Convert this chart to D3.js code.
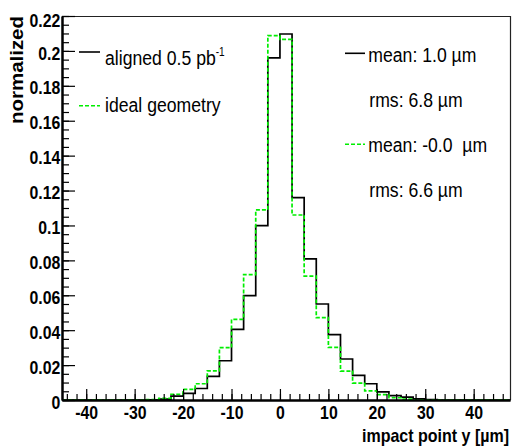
<!DOCTYPE html>
<head>
    <script src="https://d3js.org/d3.v7.min.js" charset="utf-8"></script>
    <style>
    body { margin: 0; background: #fff; }
    svg { display: block; font-family: "Liberation Sans", Arial, sans-serif; }
    .tick line { stroke: #000; stroke-width: 1.2px; }
    .tick text { font-weight: bold; font-size: 18px; fill: #000; }
    .domain { stroke: #000; stroke-width: 2px; }
    text.leg { font-size: 21px; fill: #000; white-space: pre; }
    </style>
</head>
<body>
<div id="chart"></div>
<script>
    // lower edges of the 2.5 um bins
    var binLow = [-45, -42.5, -40, -37.5, -35, -32.5, -30, -27.5, -25, -22.5,
                  -20, -17.5, -15, -12.5, -10, -7.5, -5, -2.5, 0, 2.5,
                  5, 7.5, 10, 12.5, 15, 17.5, 20, 22.5, 25, 27.5,
                  30, 32.5, 35, 37.5, 40, 42.5, 45];
    var binHigh = 47.5;

    // aligned 0.5 pb-1 (black)
    var aligned = [0, 0, 0, 0, 0, 0, 0, 0.0001, 0.0005, 0.0022,
                   0.0038, 0.0066, 0.0135, 0.0225, 0.0405, 0.0598, 0.0999, 0.196, 0.2097, 0.116,
                   0.0808, 0.055, 0.0374, 0.0235, 0.0141, 0.0093, 0.0046, 0.0025, 0.0017, 0.0006,
                   0.0002, 0, 0, 0, 0, 0, 0];
    // ideal geometry (green dashed)
    var ideal = [0, 0, 0, 0, 0, 0, 0, 0.0003, 0.0010, 0.0033,
                 0.0061, 0.0093, 0.0167, 0.030, 0.0462, 0.0718, 0.1089, 0.2087, 0.2066, 0.106,
                 0.071, 0.0472, 0.0302, 0.0166, 0.0097, 0.0052, 0.0031, 0.0013, 0.0005, 0.0001,
                 0, 0, 0, 0, 0, 0, 0];

    var yTicks = [0, 0.02, 0.04, 0.06, 0.08, 0.1, 0.12, 0.14, 0.16, 0.18, 0.2, 0.22];
    var yMinor = d3.range(0, 0.2201, 0.005);
    var xTicks = [-40, -30, -20, -10, 0, 10, 20, 30, 40];
    var xMinor = d3.range(-44, 47, 2);

    var legendLeft = [
        {label: "aligned 0.5 pb", sup: "-1", color: "#000", dash: null},
        {label: "ideal geometry", sup: null, color: "#00ee00", dash: "4,2"}
    ];
    var legendRight = [
        {label: "mean: 1.0 \u00b5m", color: "#000", dash: null},
        {label: "rms: 6.8 \u00b5m", color: null, dash: null},
        {label: "mean: -0.0  \u00b5m", color: "#00ee00", dash: "4,2"},
        {label: "rms: 6.6 \u00b5m", color: null, dash: null}
    ];

    var width = 512, height = 446;
    var padL = 62, padR = 510, padT = 16, padB = 400;

    var svg = d3.select("#chart").append("svg")
        .attr("width", width)
        .attr("height", height);

    var x = d3.scaleLinear().domain([-45, binHigh]).range([padL, padR]);
    var y = d3.scaleLinear().domain([0, 0.22]).range([padB, padT]);

    function fmt(d) { return String(+d.toFixed(2)); }

    // frame top / right
    svg.append("path")
        .attr("d", "M" + padL + "," + (padT + 0.5) + "H" + (padR + 0.5) + "V" + padB)
        .attr("fill", "none")
        .attr("stroke", "#222")
        .attr("stroke-width", 1.2);

    // histograms
    function histLine(vals) {
        var pts = binLow.map(function(b, i) { return [x(b), y(vals[i])]; });
        pts.push([x(binHigh), y(vals[vals.length - 1])]);
        return d3.line().curve(d3.curveStepAfter)(pts);
    }
    svg.append("path")
        .attr("d", histLine(aligned))
        .attr("fill", "none")
        .attr("stroke", "#000")
        .attr("stroke-width", 1.7);
    svg.append("path")
        .attr("d", histLine(ideal))
        .attr("fill", "none")
        .attr("stroke", "#00ee00")
        .attr("stroke-width", 1.7)
        .attr("stroke-dasharray", "4,2");

    // minor ticks
    svg.append("g")
        .attr("transform", "translate(0," + padB + ")")
        .call(d3.axisBottom(x).tickValues(xMinor).tickSize(-6).tickSizeOuter(0).tickFormat(""));
    svg.append("g")
        .attr("transform", "translate(" + padL + ",0)")
        .call(d3.axisLeft(y).tickValues(yMinor).tickSize(-7).tickSizeOuter(0).tickFormat(""));

    // major ticks + labels
    var xg = svg.append("g")
        .attr("transform", "translate(0," + padB + ")")
        .call(d3.axisBottom(x).tickValues(xTicks).tickSize(-11).tickSizeOuter(0)
            .tickPadding(6.5).tickFormat(function(d) { return String(d); }));
    xg.selectAll(".tick text").attr("transform", "scale(0.88,1)");

    var yg = svg.append("g")
        .attr("transform", "translate(" + padL + ",0)")
        .call(d3.axisLeft(y).tickValues(yTicks).tickSize(-13).tickSizeOuter(0)
            .tickPadding(2).tickFormat(fmt));
    yg.selectAll(".tick text")
        .attr("dy", function(d) { return d == 0.22 ? "0.6em" : "0.45em"; })
        .attr("transform", "scale(0.88,1)");

    // axis titles
    svg.append("text")
        .attr("transform", "translate(509," + 441.5 + ") scale(0.89,1)")
        .attr("text-anchor", "end")
        .style("font-weight", "bold")
        .style("font-size", "18px")
        .text("impact point y [\u00b5m]");

    svg.append("text")
        .attr("transform", "translate(23," + padT + ") rotate(-90)")
        .attr("text-anchor", "end")
        .attr("textLength", 108)
        .attr("lengthAdjust", "spacingAndGlyphs")
        .style("font-weight", "bold")
        .style("font-size", "18px")
        .text("normalized");

    // left legend
    var leftY = [52, 105.7], leftBase = [65, 111.7];
    legendLeft.forEach(function(d, i) {
        svg.append("line")
            .attr("x1", 79).attr("x2", 100)
            .attr("y1", leftY[i]).attr("y2", leftY[i])
            .attr("stroke", d.color)
            .attr("stroke-width", 1.6)
            .attr("stroke-dasharray", d.dash);
        var t = svg.append("text").attr("class", "leg")
            .attr("transform", "translate(105," + leftBase[i] + ") scale(0.84,1)")
            .text(d.label);
        if (d.sup) {
            t.append("tspan").attr("dy", -9.5).style("font-size", "12px").text(d.sup);
        }
    });

    // right legend (stats)
    var rightLine = [53.3, null, 144.3, null], rightBase = [61.7, 106.7, 151.7, 196.7];
    legendRight.forEach(function(d, i) {
        if (d.color) {
            svg.append("line")
                .attr("x1", 345).attr("x2", 365)
                .attr("y1", rightLine[i]).attr("y2", rightLine[i])
                .attr("stroke", d.color)
                .attr("stroke-width", 1.6)
                .attr("stroke-dasharray", d.dash);
        }
        svg.append("text").attr("class", "leg")
            .attr("transform", "translate(" + (d.color ? 368.3 : 369.3) + "," + rightBase[i] + ") scale(0.84,1)")
            .text(d.label);
    });
</script>
</body>
